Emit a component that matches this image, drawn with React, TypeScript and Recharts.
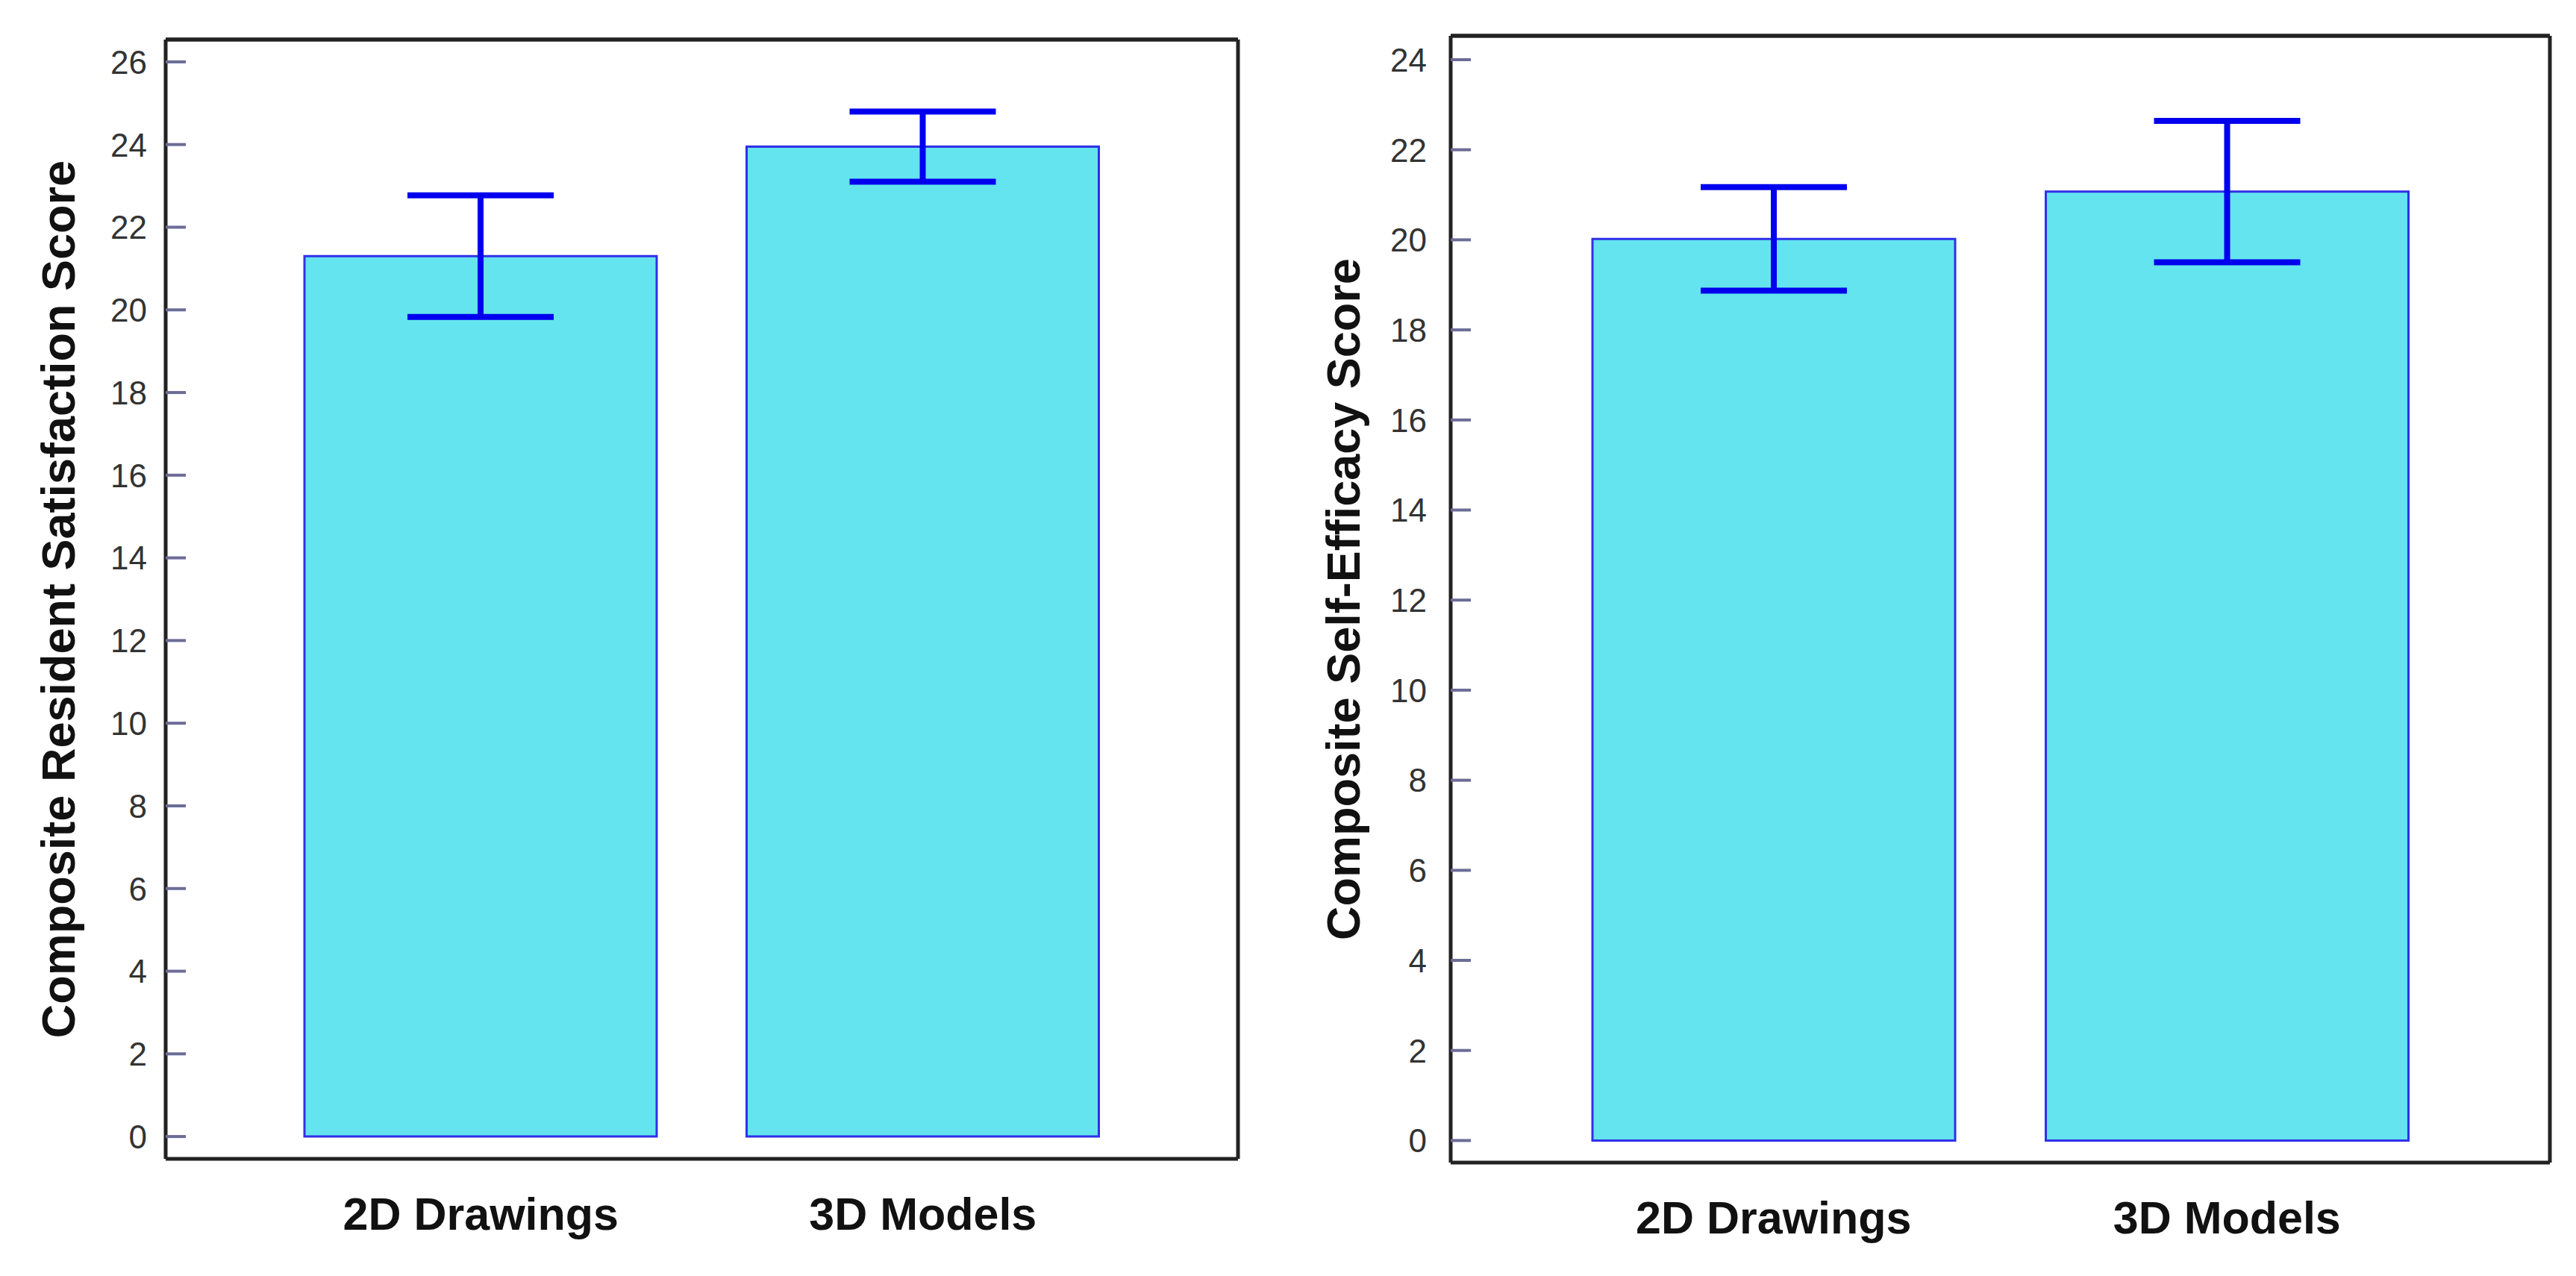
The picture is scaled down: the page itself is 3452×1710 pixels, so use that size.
import React from 'react';
import { BarChart, Bar, XAxis, YAxis, ErrorBar, ReferenceLine } from 'recharts';

const categories = ['2D Drawings', '3D Models'];
const satisfactionMeans = [21.3, 23.95];
const satisfactionErrors = [1.47, 0.85];
const efficacyMeans = [20.02, 21.07];
const efficacyErrors = [1.15, 1.57];
const satisfactionTicks = [0, 2, 4, 6, 8, 10, 12, 14, 16, 18, 20, 22, 24, 26];
const efficacyTicks = [0, 2, 4, 6, 8, 10, 12, 14, 16, 18, 20, 22, 24];

const FONT = '"Liberation Sans", Arial, Helvetica, sans-serif';
const BAR_FILL = '#64e4ee';
const BAR_STROKE = '#3030e8';
const ERR_COLOR = '#0000ee';
const FRAME = '#222222';
const TICK_COLOR = '#6c6c98';

const makeRows = (means: number[], errs: number[]) =>
  categories.map((c, i) => ({ cat: c, value: means[i], err: errs[i] }));

const makeYTick = (gap: number) => (props: any) => {
  const { x, y, payload } = props;
  return (
    <g>
      <line x1={x} x2={x + 27} y1={y} y2={y} stroke={TICK_COLOR} strokeWidth={4} />
      <text x={x - gap} y={y} dy="0.36em" textAnchor="end" fontFamily={FONT} fontSize={44} fill="#333">
        {payload.value}
      </text>
    </g>
  );
};

const makeXTick = (dy: number) => (props: any) => {
  const { x, y, payload } = props;
  return (
    <text x={x} y={y + dy} textAnchor="middle" fontFamily={FONT} fontSize={61} fontWeight="bold" fill="#111">
      {payload.value}
    </text>
  );
};

const makeTitle = (title: string, bx: number) => (props: any) => {
  const { viewBox } = props;
  const cy = viewBox.y + viewBox.height / 2;
  return (
    <text
      x={bx}
      y={cy}
      transform={`rotate(-90, ${bx}, ${cy})`}
      textAnchor="middle"
      fontFamily={FONT}
      fontSize={63}
      fontWeight="bold"
      fill="#111"
    >
      {title}
    </text>
  );
};

type PanelProps = {
  width: number;
  rows: any[];
  domain: [number, number];
  ticks: number[];
  title: string;
  titleX: number;
  yWidth: number;
  margin: { top: number; right: number; bottom: number; left: number };
  padX: number;
  barSize: number;
  tickGap: number;
  labelDy: number;
};

function Panel(p: PanelProps) {
  return (
    <BarChart width={p.width} height={1710} data={p.rows} margin={p.margin}>
      <XAxis
        dataKey="cat"
        xAxisId="top"
        orientation="top"
        height={1}
        tick={false}
        tickLine={false}
        axisLine={{ stroke: FRAME, strokeWidth: 5 }}
        padding={{ left: p.padX, right: p.padX }}
      />
      <YAxis
        yAxisId="right"
        orientation="right"
        width={1}
        domain={p.domain}
        allowDataOverflow
        tick={false}
        tickLine={false}
        axisLine={{ stroke: FRAME, strokeWidth: 5 }}
      />
      <XAxis
        dataKey="cat"
        height={100}
        tickLine={false}
        tickSize={0}
        tickMargin={0}
        axisLine={{ stroke: FRAME, strokeWidth: 5 }}
        padding={{ left: p.padX, right: p.padX }}
        tick={makeXTick(p.labelDy)}
        interval={0}
      />
      <YAxis
        type="number"
        domain={p.domain}
        ticks={p.ticks}
        allowDataOverflow
        width={p.yWidth}
        tickLine={false}
        tickSize={0}
        tickMargin={0}
        axisLine={{ stroke: FRAME, strokeWidth: 5 }}
        tick={makeYTick(p.tickGap)}
        interval={0}
        label={{ content: makeTitle(p.title, p.titleX) } as any}
      />
      <ReferenceLine y={p.domain[1]} stroke={FRAME} strokeWidth={5} ifOverflow="visible" />
      <Bar
        dataKey="value"
        barSize={p.barSize}
        fill={BAR_FILL}
        stroke={BAR_STROKE}
        strokeWidth={3}
        isAnimationActive={false}
      >
        <ErrorBar dataKey="err" width={98} stroke={ERR_COLOR} strokeWidth={8} direction="y" />
      </Bar>
    </BarChart>
  );
}

export default function App() {
  return (
    <div
      style={{
        position: 'absolute',
        left: 0,
        top: 0,
        width: 3452,
        height: 1710,
        background: '#ffffff',
        overflow: 'hidden',
      }}
    >
      <div style={{ position: 'absolute', left: 0, top: 0 }}>
        <Panel
          width={1720}
          rows={makeRows(satisfactionMeans, satisfactionErrors)}
          domain={[-0.54, 26.54]}
          ticks={satisfactionTicks}
          title="Composite Resident Satisfaction Score"
          titleX={100}
          yWidth={222}
          margin={{ top: 52, right: 60, bottom: 57, left: 0 }}
          padX={126}
          barSize={472}
          tickGap={25}
          labelDy={95}
        />
      </div>
      <div style={{ position: 'absolute', left: 1720, top: 0 }}>
        <Panel
          width={1732}
          rows={makeRows(efficacyMeans, efficacyErrors)}
          domain={[-0.49, 24.53]}
          ticks={efficacyTicks}
          title="Composite Self-Efficacy Score"
          titleX={102}
          yWidth={224}
          margin={{ top: 47, right: 34, bottom: 52, left: 0 }}
          padX={129}
          barSize={486}
          tickGap={32}
          labelDy={95}
        />
      </div>
    </div>
  );
}
